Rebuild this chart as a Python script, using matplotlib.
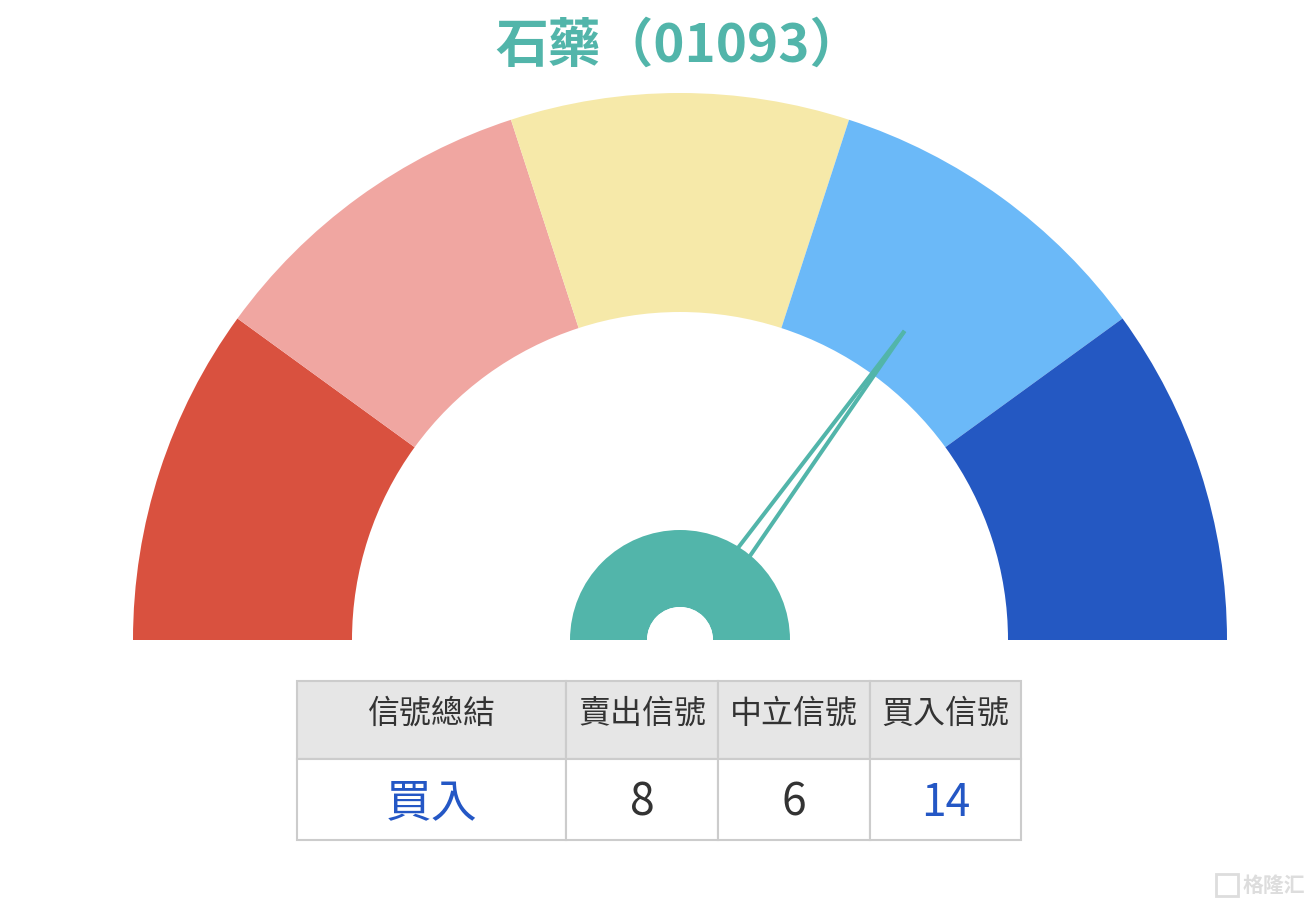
import numpy as np
import matplotlib.pyplot as plt
from matplotlib.patches import Wedge, Rectangle

plt.rcParams['font.family'] = ['Noto Sans CJK TC', 'DejaVu Sans']

# data
title = "石藥（01093）"
zone_colors = ["#d9513f", "#f0a6a1", "#f6e9a9", "#6bb9f8", "#2458c2"]
needle_value = 0.70          # position on the gauge, 0 = left, 1 = right
table_header = ["信號總結", "賣出信號", "中立信號", "買入信號"]
table_values = ["買入", "8", "6", "14"]
value_colors = ["#2457c5", "#333333", "#333333", "#2457c5"]

W, H = 1312, 908
teal = "#52b5aa"

fig = plt.figure(figsize=(W / 100, H / 100), dpi=100)
ax = fig.add_axes([0, 0, 1, 1])
ax.set_xlim(0, W)
ax.set_ylim(0, H)
ax.set_aspect('equal')
ax.axis('off')

def fy(y):
	return H - y

cx, cy = 680, fy(640)
r_out, r_in = 547, 328
n = len(zone_colors)
step = 180.0 / n
for i, c in enumerate(zone_colors):
	t2 = 180 - step * i
	t1 = t2 - step
	ax.add_patch(Wedge((cx, cy), r_out, t1, t2, width=r_out - r_in, facecolor=c, edgecolor='none'))

# needle: two thin strokes converging to the tip (base hidden under the hub)
ang = np.radians(180 - needle_value * 180)
u = np.array([np.cos(ang), np.sin(ang)])
p = np.array([-u[1], u[0]])
c0 = np.array([cx, cy])
tip = c0 + u * 382
for s in (1, -1):
	base = c0 + u * 60 + p * s * 8.5
	ax.plot([base[0], tip[0]], [base[1], tip[1]], color=teal, linewidth=2.9,
			solid_capstyle='butt', zorder=3)

# hub
ax.add_patch(Wedge((cx, cy), 110, 0, 180, width=77, facecolor=teal, edgecolor='none', zorder=4))
ax.add_patch(Wedge((cx, cy), 33, 0, 180, facecolor='white', edgecolor='none', zorder=4))

ax.text(679, fy(46), title, ha='center', va='center', fontsize=38, fontweight='bold', color=teal)

# table
col_edges = [297, 566, 718, 870, 1021]
row_edges = [681, 759, 840]
for j in range(len(table_header)):
	x0, x1 = col_edges[j], col_edges[j + 1]
	ax.add_patch(Rectangle((x0, fy(row_edges[1])), x1 - x0, row_edges[1] - row_edges[0],
						   facecolor='#e6e6e6', edgecolor='#cccccc', linewidth=1.5))
	ax.add_patch(Rectangle((x0, fy(row_edges[2])), x1 - x0, row_edges[2] - row_edges[1],
						   facecolor='white', edgecolor='#cccccc', linewidth=1.5))
	xm = (x0 + x1) / 2
	ax.text(xm, fy(714), table_header[j], ha='center', va='center', fontsize=23, color='#333333')
	fs = 33 if j == 0 else 32
	ax.text(xm, fy(803), table_values[j], ha='center', va='center', fontsize=fs, color=value_colors[j])

# watermark
ax.text(1305, fy(885), "格隆汇", ha='right', va='center', fontsize=15, color='#dddddd', fontweight='bold')
ax.add_patch(Rectangle((1216, fy(896)), 22, 22, facecolor='none', edgecolor='#dddddd', linewidth=2))

fig.savefig("out.png", dpi=100)
